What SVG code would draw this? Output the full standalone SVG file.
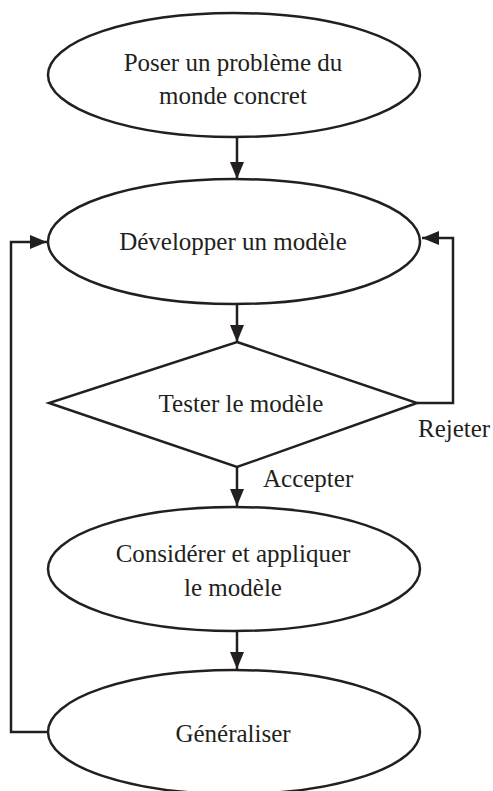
<svg xmlns="http://www.w3.org/2000/svg" width="493" height="791" viewBox="0 0 493 791">
  <style>
    .shape { fill: #ffffff; stroke: #231f20; stroke-width: 2.5; }
    .link { fill: none; stroke: #231f20; stroke-width: 2.5; }
    .label { font-family: "Liberation Serif", "Times New Roman", serif; font-size: 25px; fill: #231f20; }
    .mid { text-anchor: middle; }
  </style>
  <defs>
    <marker id="arrow" markerUnits="userSpaceOnUse" markerWidth="17" markerHeight="14" refX="17" refY="7" orient="auto">
      <path d="M0,0 L17,7 L0,14 Z" fill="#231f20"/>
    </marker>
  </defs>

  <rect width="493" height="791" fill="#ffffff"/>

  <!-- connectors -->
  <g id="connectors">
    <path class="link" d="M237,137 L237,179" marker-end="url(#arrow)"/>
    <path class="link" d="M237,304 L237,342" marker-end="url(#arrow)"/>
    <path class="link" d="M237,467 L237,506" marker-end="url(#arrow)"/>
    <path class="link" d="M237,631 L237,669" marker-end="url(#arrow)"/>
    <path class="link" d="M417,403 L453,403 L453,238 L422,238" marker-end="url(#arrow)"/>
    <path class="link" d="M48,732 L11,732 L11,242 L47,242" marker-end="url(#arrow)"/>
    <text class="label" x="418" y="437">Rejeter</text>
    <text class="label" x="263" y="487">Accepter</text>
  </g>

  <!-- nodes -->
  <g id="poser">
    <ellipse class="shape" cx="234" cy="75" rx="186" ry="62"/>
    <text class="label mid" x="233" y="71">Poser un problème du</text>
    <text class="label mid" x="233" y="104">monde concret</text>
  </g>

  <g id="developper">
    <ellipse class="shape" cx="234" cy="241.5" rx="186" ry="62.5"/>
    <text class="label mid" x="233" y="250">Développer un modèle</text>
  </g>

  <g id="tester">
    <polygon class="shape" points="237,342 417,403 237,467 49,403"/>
    <text class="label mid" x="241" y="412">Tester le modèle</text>
  </g>

  <g id="considerer">
    <ellipse class="shape" cx="234" cy="569" rx="186" ry="62"/>
    <text class="label mid" x="233" y="562">Considérer et appliquer</text>
    <text class="label mid" x="233" y="596">le modèle</text>
  </g>

  <g id="generaliser">
    <ellipse class="shape" cx="234" cy="732" rx="186" ry="62"/>
    <text class="label mid" x="233" y="742">Généraliser</text>
  </g>
</svg>
